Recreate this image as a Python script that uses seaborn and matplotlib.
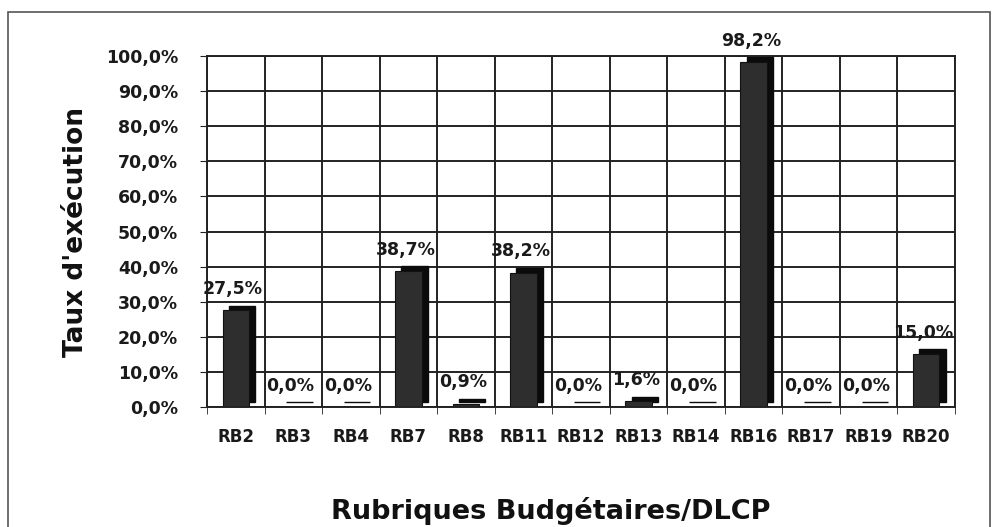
import matplotlib
matplotlib.use("Agg")
import matplotlib.pyplot as plt
import matplotlib.transforms as mtransforms
from matplotlib.patches import Rectangle
import seaborn as sns
import pandas as pd

categories = ["RB2", "RB3", "RB4", "RB7", "RB8", "RB11", "RB12", "RB13",
              "RB14", "RB16", "RB17", "RB19", "RB20"]
values = [27.5, 0.0, 0.0, 38.7, 0.9, 38.2, 0.0, 1.6, 0.0, 98.2, 0.0, 0.0, 15.0]
labels = ["27,5%", "0,0%", "0,0%", "38,7%", "0,9%", "38,2%", "0,0%", "1,6%",
          "0,0%", "98,2%", "0,0%", "0,0%", "15,0%"]
yticks = [0, 10, 20, 30, 40, 50, 60, 70, 80, 90, 100]
ytick_labels = ["0,0%", "10,0%", "20,0%", "30,0%", "40,0%", "50,0%", "60,0%",
                "70,0%", "80,0%", "90,0%", "100,0%"]

df = pd.DataFrame({"cat": categories, "val": values})

sns.set_style("white")
plt.rcParams["font.family"] = ["DejaVu Sans"]

fig = plt.figure(figsize=(9.96, 5.27), dpi=100)
ax = fig.add_axes([207 / 996, 1 - 407 / 527, 748 / 996, 351 / 527])

# depth (side/top) face: same bars shifted right/up
depth = mtransforms.offset_copy(ax.transData, fig=fig, x=4.5, y=3.5, units="points")
sns.barplot(data=df, x="cat", y="val", color="#0b0b0b", width=0.46,
            ax=ax, saturation=1)
for p in ax.patches:
    p.set_transform(depth)
    p.set_edgecolor("#0b0b0b")
n_shadow = len(ax.patches)
sns.barplot(data=df, x="cat", y="val", color="#2e2e2e", width=0.46, ax=ax,
            saturation=1)
for p in ax.patches[n_shadow:]:
    p.set_edgecolor("#111111")
    p.set_linewidth(0.8)

ax.set_xlim(-0.5, len(categories) - 0.5)
ax.set_ylim(0, 100)
ax.set_yticks(yticks)
ax.set_yticklabels(ytick_labels)
ax.set_xticks([i + 0.5 for i in range(-1, len(categories))], minor=True)
ax.grid(True, which="major", axis="y", color="#222222", linewidth=1.4)
ax.grid(True, which="minor", axis="x", color="#222222", linewidth=1.4)
ax.set_axisbelow(True)
for s in ax.spines.values():
    s.set_color("#222222")
    s.set_linewidth(1.4)

ax.tick_params(axis="y", which="major", length=5, pad=16, labelsize=12.5,
               colors="#222222", left=True)
ax.tick_params(axis="x", which="major", length=0, pad=15, labelsize=12,
               colors="#222222")
ax.tick_params(axis="x", which="minor", length=5, bottom=True, color="#222222")
for t in ax.get_yticklabels() + ax.get_xticklabels():
    t.set_fontweight("bold")
    t.set_color("#1a1a1a")

for i, (v, lab) in enumerate(zip(values, labels)):
    ax.annotate(lab, (i, v), xytext=(-2, 9), textcoords="offset points",
                ha="center", va="bottom", fontsize=12.5, fontweight="bold",
                color="#1a1a1a", annotation_clip=False)

ax.set_xlabel("Rubriques Budgétaires/DLCP", fontsize=19.5, fontweight="bold",
              color="#111111")
ax.xaxis.set_label_coords(0.459, -0.255)
ax.set_ylabel("Taux d'exécution", fontsize=19, fontweight="bold",
              labelpad=12, color="#111111")

fig.patches.append(Rectangle((8 / 996, -0.02), 982 / 996, 1 - 12 / 527 + 0.02,
                             transform=fig.transFigure, fill=False,
                             edgecolor="#555555", linewidth=1.2))

fig.savefig("out.png", dpi=100)
